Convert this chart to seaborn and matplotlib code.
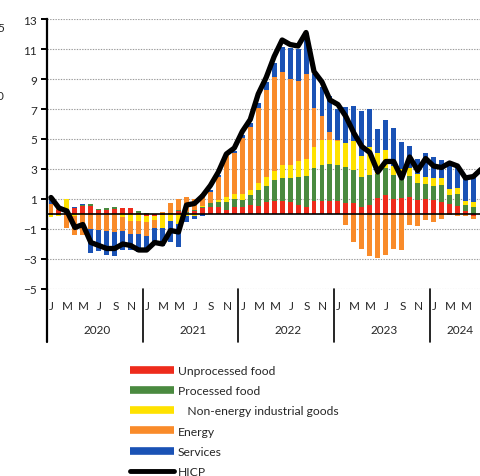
import numpy as np
import matplotlib
matplotlib.use("Agg")
import matplotlib.pyplot as plt
import matplotlib.transforms as mtransforms
from matplotlib.lines import Line2D
import seaborn as sns
import pandas as pd

# ---------------- data (contributions, percentage points) ----------------
years = ["2020", "2021", "2022", "2023", "2024"]
month_letters = ["J", "M", "M", "J", "S", "N"]  # Jan, Mar, May, Jul, Sep, Nov

unprocessed_food = [0.05, 0.3, 0.1, 0.4, 0.55, 0.55, 0.25, 0.28, 0.35, 0.4, 0.4, 0.05,
                    -0.1, -0.1, -0.05, 0.0, 0.2, 0.1, 0.2, 0.4, 0.5, 0.5, 0.3, 0.45,
                    0.45, 0.6, 0.55, 0.8, 0.85, 0.85, 0.8, 0.6, 0.5, 0.85, 0.85, 0.85,
                    0.85, 0.75, 0.75, 0.45, 0.6, 1.05, 1.25, 1.0, 1.05, 1.15, 0.95, 1.0,
                    0.95, 0.8, 0.65, 0.55, 0.2, -0.15]
processed_food = [-0.05, -0.05, 0.15, 0.0, 0.05, 0.1, 0.1, 0.15, 0.15, 0.0, 0.0, 0.15,
                  0.05, 0.0, 0.05, 0.05, 0.1, 0.05, 0.05, 0.1, 0.25, 0.3, 0.5, 0.55,
                  0.5, 0.65, 1.05, 1.1, 1.45, 1.55, 1.6, 1.9, 2.05, 2.2, 2.4, 2.5,
                  2.45, 2.4, 2.2, 2.0, 2.0, 1.6, 1.8, 1.6, 1.3, 1.4, 1.15, 1.0,
                  0.95, 1.15, 0.65, 0.8, 0.4, 0.5]
neig = [-0.15, -0.1, 0.75, -0.1, -0.05, 0.0, 0.0, 0.0, -0.05, -0.2, -0.45, -0.45,
        -0.45, -0.3, -0.9, -0.45, -0.65, -0.1, -0.1, 0.05, 0.0, 0.15, 0.33, 0.35,
        0.4, 0.33, 0.45, 0.55, 0.55, 0.9, 0.9, 1.05, 1.1, 1.45, 1.7, 1.6,
        1.55, 1.6, 1.95, 1.45, 1.85, 1.4, 1.2, 0.6, 0.65, 0.5, 0.6, 0.5,
        0.5, 0.45, 0.35, 0.4, 0.3, 0.27]
energy = [0.65, 0.1, -0.9, -1.3, -1.35, -1.0, -1.05, -1.1, -1.15, -0.9, -0.9, -0.9,
          -0.9, -0.55, 0.1, 0.7, 0.7, 1.0, 0.75, 0.8, 0.75, 1.55, 2.8, 2.7,
          3.7, 4.2, 5.0, 5.8, 6.3, 6.2, 5.7, 5.35, 5.7, 2.55, 1.6, 0.55,
          0.1, -0.7, -1.85, -2.3, -2.8, -2.9, -2.7, -2.35, -2.4, -0.75, -0.8, -0.4,
          -0.55, -0.3, -0.05, -0.15, -0.1, -0.15]
services = [0.35, 0.1, -0.05, 0.1, 0.1, -1.6, -1.4, -1.6, -1.6, -1.3, -1.05, -1.2,
            -0.9, -1.0, -1.2, -1.4, -1.55, -0.45, -0.2, -0.15, 0.1, 0.1, 0.05, 0.15,
            0.2, 0.3, 0.35, 0.55, 0.9, 1.65, 2.1, 2.1, 2.7, 2.3, 1.95, 2.35,
            2.05, 2.4, 2.3, 2.95, 2.55, 1.65, 2.05, 2.55, 1.8, 1.5, 1.0, 1.6,
            1.4, 1.2, 1.65, 1.5, 1.65, 1.8]
hicp = [1.1, 0.4, 0.2, -0.9, -0.7, -1.9, -2.1, -2.3, -2.3, -2.0, -2.1, -2.4,
        -2.4, -1.9, -2.0, -1.1, -1.2, 0.6, 0.7, 1.2, 1.9, 2.8, 4.0, 4.4,
        5.5, 6.3, 8.0, 9.1, 10.5, 11.6, 11.3, 11.2, 12.1, 9.5, 8.8, 7.6,
        7.3, 6.5, 5.4, 4.5, 4.1, 2.8, 3.5, 3.5, 2.4, 3.8, 2.9, 3.7,
        3.2, 3.1, 3.4, 3.2, 2.4, 2.5, 3.0]

series_names = ["Unprocessed food", "Processed food", "   Non-energy industrial goods",
                "Energy", "Services"]
series_vals = [unprocessed_food, processed_food, neig, energy, services]
series_cols = ["#EE2B1B", "#4A8A3F", "#FFE200", "#F98B2A", "#1A52B5"]

# ---------------- figure ----------------
sns.set_theme(style="white")
plt.rcParams["font.family"] = ["Lato", "DejaVu Sans"]

W, H = 481, 477
fig = plt.figure(figsize=(W / 100, H / 100), dpi=100)
ax_left_px, ax_top_px, ax_bot_px = 47, 20, 290
ax = fig.add_axes([ax_left_px / W, 1 - ax_bot_px / H, 1 - ax_left_px / W,
                   (ax_bot_px - ax_top_px) / H])

n = len(unprocessed_food)
x = np.arange(n)
pos_base = np.zeros(n)
neg_base = np.zeros(n)
for vals, col in zip(series_vals, series_cols):
    v = np.array(vals)
    bottom = np.where(v >= 0, pos_base, neg_base)
    ax.bar(x, v, width=0.62, bottom=bottom, color=col, linewidth=0, zorder=2)
    pos_base = pos_base + np.where(v >= 0, v, 0)
    neg_base = neg_base + np.where(v < 0, v, 0)

df_line = pd.DataFrame({"t": np.arange(len(hicp)), "hicp": hicp})
sns.lineplot(data=df_line, x="t", y="hicp", ax=ax, color="black", lw=3.8,
             zorder=5, solid_joinstyle="round", solid_capstyle="round")

ax.axhline(0, color="black", lw=1.2, zorder=4)

ax.set_ylim(-5, 13)
ax.set_xlim(-0.5, 53.95)
ax.set_yticks(np.arange(-5, 14, 2))
ax.yaxis.grid(True, linestyle=(0, (1.2, 1.2)), color="#9a9a9a", lw=0.8, zorder=0)
ax.xaxis.grid(False)
ax.set_xticks([])
ax.set_xlabel("")
ax.set_ylabel("")
for s in ["top", "right", "bottom"]:
    ax.spines[s].set_visible(False)
ax.spines["left"].set_color("black")
ax.spines["left"].set_linewidth(1.6)
ax.tick_params(axis="y", which="major", left=True, length=4, width=1.4,
               color="black", labelsize=8.5, labelcolor="#262626", pad=3)

# extended axis and year separators below plot
trans = mtransforms.blended_transform_factory(ax.transData, ax.transAxes)
ext = -(343 - ax_bot_px) / (ax_bot_px - ax_top_px)
for xb in [-0.5, 11.5, 23.5, 35.5, 47.5]:
    ax.plot([xb, xb], [0, ext], transform=trans, color="black",
            lw=1.6 if xb < 0 else 1.2, clip_on=False, zorder=6)

# month letters and years
y_month = -(306 - ax_bot_px) / (ax_bot_px - ax_top_px)
y_year = -(331 - ax_bot_px) / (ax_bot_px - ax_top_px)
for yi, yr in enumerate(years):
    for mi, letter in enumerate(month_letters):
        idx = yi * 12 + mi * 2
        if idx < len(hicp):
            ax.text(idx + 0.1, y_month, letter, transform=trans, ha="center", va="center",
                    fontsize=8.5, color="#262626", clip_on=False)
    last = min(yi * 12 + 11, len(hicp) - 1)
    ax.text((yi * 12 + last) / 2 + 0.3, y_year, yr, transform=trans, ha="center",
            va="center", fontsize=8.5, color="#262626", clip_on=False)

# cut-off fragments at left edge (as in the reference crop)
fig.text(-3 / W, 1 - 28 / H, "5", fontsize=8.5, color="#262626", ha="left", va="center")
fig.text(-3 / W, 1 - 97 / H, "0", fontsize=8.5, color="#262626", ha="left", va="center")

# legend
handles = [Line2D([], [], color=c, lw=5.5, solid_capstyle="butt") for c in series_cols]
handles.append(Line2D([], [], color="black", lw=3.5, solid_capstyle="round"))
labels = series_names + ["HICP"]
fig.legend(handles, labels, loc="upper left", bbox_to_anchor=(130 / W, 1 - 366 / H),
           frameon=False, fontsize=8.7, handlelength=3.6, handletextpad=0.35,
           labelspacing=0.76, borderpad=0, borderaxespad=0, labelcolor="#262626")

fig.savefig("out.png", dpi=100)
